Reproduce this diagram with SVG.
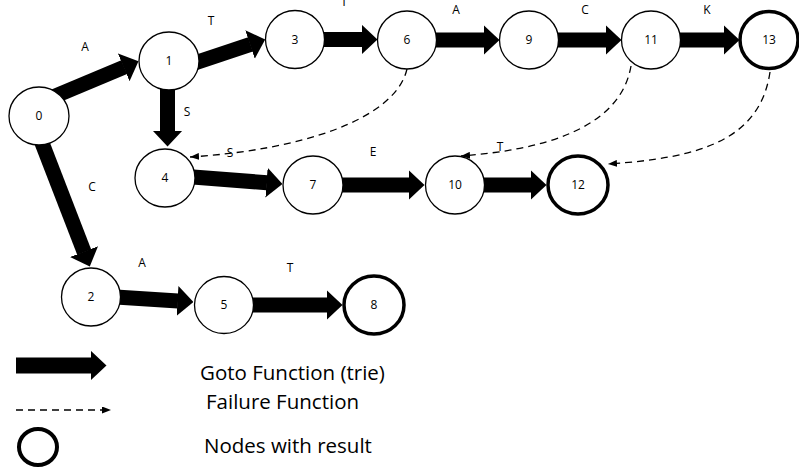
<svg xmlns="http://www.w3.org/2000/svg" width="799" height="468" viewBox="0 0 799 468">
<defs>
<marker id="head" markerUnits="userSpaceOnUse" markerWidth="16" markerHeight="30" viewBox="0 0 16 30" refX="0.5" refY="15" orient="auto">
<path d="M0,0 L16,15 L0,30 z" fill="#000"/>
</marker>
<marker id="fhead" markerUnits="userSpaceOnUse" markerWidth="9" markerHeight="7" viewBox="0 0 9 7" refX="9" refY="3.5" orient="auto">
<path d="M0,0 L9,3.5 L0,7 z" fill="#000"/>
</marker>
<style>
.go{stroke:#000;stroke-width:15;fill:none;marker-end:url(#head)}
.fail{stroke:#000;stroke-width:1.3;fill:none;stroke-dasharray:7,5;marker-end:url(#fhead)}
.n{fill:#fff;stroke:#000;stroke-width:1.3}
.r{fill:#fff;stroke:#000;stroke-width:3.5}
.t{font-family:"Open Sans","Liberation Sans",sans-serif;font-size:12px;fill:#000;text-anchor:middle}
.lg{font-family:"Open Sans","Liberation Sans",sans-serif;font-size:20.5px;fill:#000}
</style>
</defs>
<g id="connectors">
<line class="go" x1="50.8" y1="97.9" x2="124.2" y2="67.2"/>
<line class="go" x1="187.6" y1="65.3" x2="250.5" y2="44.4"/>
<line class="go" x1="167.5" y1="75" x2="167.5" y2="131"/>
<line class="go" x1="310" y1="39.5" x2="362" y2="39.5"/>
<line class="go" x1="420" y1="40" x2="484" y2="40"/>
<line class="go" x1="540" y1="40" x2="606" y2="40"/>
<line class="go" x1="665" y1="40" x2="724" y2="40"/>
<line class="go" x1="180" y1="176" x2="267" y2="182.7"/>
<line class="go" x1="330" y1="185" x2="409" y2="185"/>
<line class="go" x1="470" y1="185" x2="531" y2="185"/>
<line class="go" x1="36.6" y1="129" x2="84.2" y2="252.1"/>
<line class="go" x1="108" y1="296.5" x2="178" y2="301"/>
<line class="go" x1="240" y1="305" x2="327" y2="305"/>
<path class="fail" d="M407,69 C395,120 300,150 190,157"/>
<path class="fail" d="M631,66 C620,130 540,150 461,156"/>
<path class="fail" d="M770,72 C760,140 700,158 608,164"/>
</g>
<g id="n0"><ellipse class="n" cx="39" cy="116" rx="30" ry="29"/><text class="t" x="39" y="120">0</text></g>
<g id="n1"><ellipse class="n" cx="169" cy="61" rx="30" ry="29"/><text class="t" x="169" y="65">1</text></g>
<g id="n3"><ellipse class="n" cx="295" cy="39.5" rx="29.5" ry="29"/><text class="t" x="295" y="43.5">3</text></g>
<g id="n6"><ellipse class="n" cx="407" cy="40" rx="29.5" ry="29"/><text class="t" x="407" y="44">6</text></g>
<g id="n9"><ellipse class="n" cx="529" cy="40" rx="29.5" ry="29"/><text class="t" x="529" y="44">9</text></g>
<g id="n11"><ellipse class="n" cx="651" cy="40" rx="29.5" ry="29"/><text class="t" x="651" y="44">11</text></g>
<g id="n13"><ellipse class="r" cx="769" cy="40" rx="29" ry="28.5"/><text class="t" x="769" y="44">13</text></g>
<g id="n4"><ellipse class="n" cx="165" cy="178" rx="30" ry="29"/><text class="t" x="165" y="182">4</text></g>
<g id="n7"><ellipse class="n" cx="313" cy="185" rx="30" ry="29"/><text class="t" x="313" y="189">7</text></g>
<g id="n10"><ellipse class="n" cx="455" cy="185" rx="29.5" ry="29"/><text class="t" x="455" y="189">10</text></g>
<g id="n12"><ellipse class="r" cx="578" cy="185" rx="30" ry="29"/><text class="t" x="578" y="189">12</text></g>
<g id="n2"><ellipse class="n" cx="91" cy="297" rx="29.5" ry="29"/><text class="t" x="91" y="301">2</text></g>
<g id="n5"><ellipse class="n" cx="224" cy="305" rx="29.5" ry="28.5"/><text class="t" x="224" y="309">5</text></g>
<g id="n8"><ellipse class="r" cx="374" cy="305" rx="30" ry="29"/><text class="t" x="374" y="309">8</text></g>
<g id="labels">
<text class="t" x="85" y="51">A</text>
<text class="t" x="211" y="25">T</text>
<text class="t" x="344" y="6">T</text>
<text class="t" x="456" y="14">A</text>
<text class="t" x="585" y="14">C</text>
<text class="t" x="707" y="14">K</text>
<text class="t" x="187" y="116">S</text>
<text class="t" x="230" y="157">S</text>
<text class="t" x="373" y="156">E</text>
<text class="t" x="500" y="151">T</text>
<text class="t" x="92" y="191">C</text>
<text class="t" x="142" y="267">A</text>
<text class="t" x="290" y="272">T</text>
</g>
<g id="legend">
<line class="go" x1="16" y1="365.5" x2="91" y2="365.5" style="stroke-width:16"/>
<line x1="16" y1="410" x2="111" y2="410" stroke="#000" stroke-width="1.3" stroke-dasharray="7,5" marker-end="url(#fhead)"/>
<ellipse cx="38" cy="447" rx="19" ry="18" fill="none" stroke="#000" stroke-width="4"/>
<text class="lg" x="200" y="380">Goto Function (trie)</text>
<text class="lg" x="206" y="409">Failure Function</text>
<text class="lg" x="204" y="453">Nodes with result</text>
</g>
</svg>
